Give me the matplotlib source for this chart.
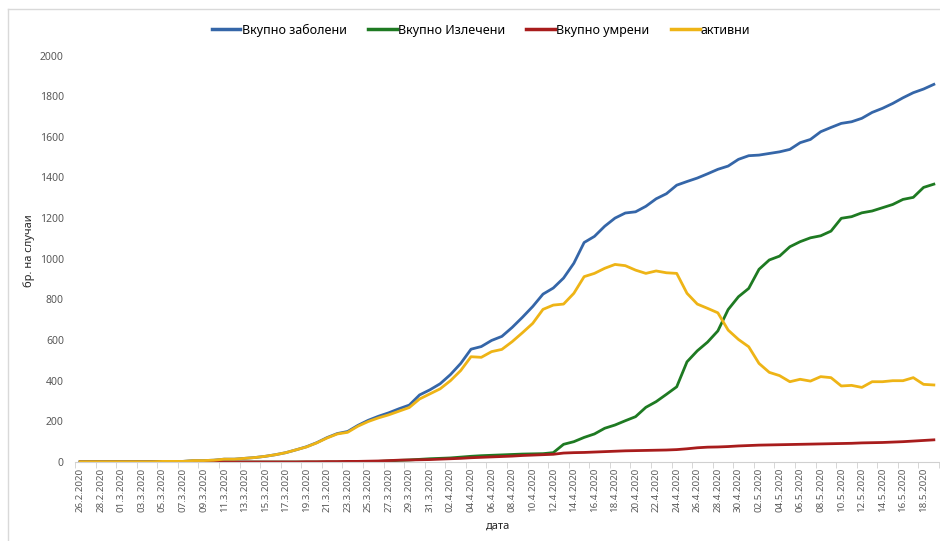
import matplotlib
matplotlib.use('Agg')
import matplotlib.pyplot as plt
from matplotlib.lines import Line2D

plt.rcParams['font.family'] = ['Noto Sans', 'DejaVu Sans']

# daily values from 26.2.2020 to 19.5.2020
total = [1, 1, 1, 1, 1, 1, 1, 1, 3, 3,
         3, 7, 7, 9, 14, 14, 18, 22, 28, 36,
         46, 60, 75, 95, 120, 140, 150, 180, 205, 225,
         242, 262, 280, 330, 355, 385, 430, 485, 555, 568,
         598, 618, 662, 712, 765, 826, 856, 905, 978, 1080,
         1110, 1160, 1200, 1225, 1231, 1258, 1295, 1320, 1362, 1380,
         1397, 1418, 1440, 1456, 1489, 1507, 1510, 1518, 1526, 1538,
         1571, 1587, 1625, 1646, 1666, 1674, 1691, 1720, 1740, 1764,
         1792, 1817, 1835, 1858]
recovered = [0, 0, 0, 0, 0, 0, 0, 0, 0, 0,
             0, 0, 0, 0, 0, 0, 0, 0, 0, 0,
             0, 0, 0, 0, 0, 0, 1, 1, 2, 3,
             5, 8, 10, 13, 16, 18, 20, 24, 28, 31,
             33, 35, 37, 39, 40, 41, 46, 87, 100, 121,
             138, 166, 182, 203, 223, 269, 297, 333, 370, 493,
             547, 590, 645, 750, 813, 854, 948, 994, 1013, 1059,
             1084, 1103, 1113, 1136, 1199, 1207, 1226, 1235, 1251, 1267,
             1292, 1302, 1351, 1367]
deaths = [0, 0, 0, 0, 0, 0, 0, 0, 0, 0,
          0, 0, 0, 0, 0, 0, 0, 0, 0, 0,
          0, 0, 1, 1, 2, 2, 3, 3, 4, 5,
          7, 9, 10, 11, 12, 14, 16, 18, 21, 23,
          25, 27, 29, 32, 34, 36, 38, 44, 46, 47,
          49, 51, 53, 55, 56, 57, 58, 59, 61, 65,
          70, 73, 74, 76, 79, 81, 83, 84, 85, 86,
          87, 88, 89, 90, 91, 92, 94, 95, 96, 98,
          100, 103, 106, 109]
active = [1, 1, 1, 1, 1, 1, 1, 1, 3, 3,
          3, 7, 7, 9, 14, 14, 18, 22, 28, 36,
          46, 60, 74, 94, 118, 138, 146, 176, 199, 217,
          232, 250, 268, 310, 335, 360, 400, 450, 518, 515,
          543, 554, 592, 636, 682, 751, 772, 777, 830, 912,
          928, 953, 972, 966, 944, 928, 940, 931, 928, 830,
          777, 756, 734, 649, 603, 567, 485, 441, 425, 395,
          407, 398, 420, 415, 374, 377, 367, 395, 395, 400,
          400, 415, 382, 379]

date_labels = ['26.2.2020', '28.2.2020', '01.3.2020', '03.3.2020', '05.3.2020',
               '07.3.2020', '09.3.2020', '11.3.2020', '13.3.2020', '15.3.2020',
               '17.3.2020', '19.3.2020', '21.3.2020', '23.3.2020', '25.3.2020',
               '27.3.2020', '29.3.2020', '31.3.2020', '02.4.2020', '04.4.2020',
               '06.4.2020', '08.4.2020', '10.4.2020', '12.4.2020', '14.4.2020',
               '16.4.2020', '18.4.2020', '20.4.2020', '22.4.2020', '24.4.2020',
               '26.4.2020', '28.4.2020', '30.4.2020', '02.5.2020', '04.5.2020',
               '06.5.2020', '08.5.2020', '10.5.2020', '12.5.2020', '14.5.2020',
               '16.5.2020', '18.5.2020']

names = ['Вкупно заболени', 'Вкупно Излечени', 'Вкупно умрени', 'активни']
colors = ['#3566a8', '#1e7a22', '#a81c1c', '#eeb416']

fig = plt.figure(figsize=(9.4, 5.41), dpi=100)
ax = fig.add_axes([75 / 940, 79 / 541, 864 / 940, 406.5 / 541])

days = list(range(len(total)))
for series, name, c in zip([total, recovered, deaths, active], names, colors):
    ax.plot(days, series, color=c, lw=2.0, label=name, solid_joinstyle='round')

ax.set_xlim(-0.5, len(total) - 0.5)
ax.set_ylim(0, 2000)
ax.set_yticks(range(0, 2001, 200))
ax.set_xticks(range(0, len(total), 2))
ax.set_xticklabels(date_labels, rotation=90)
ax.set_xticks([i - 0.5 for i in range(0, len(total) + 1, 2)], minor=True)
ax.tick_params(axis='x', which='major', length=0, pad=4, labelsize=7, colors='#595959')
ax.tick_params(axis='x', which='minor', length=4, color='#d0d0d0')
ax.tick_params(axis='y', length=0, pad=8, labelsize=7.5, colors='#595959')

for s in ['top', 'right', 'left']:
    ax.spines[s].set_visible(False)
ax.spines['bottom'].set_color('#d0d0d0')

ax.set_ylabel('бр. на случаи', fontsize=8, color='#262626')
ax.yaxis.set_label_coords(-0.046, 0.52)
ax.set_xlabel('дата', fontsize=8, color='#262626')
ax.xaxis.set_label_coords(0.49, -0.145)

handles = [Line2D([], [], color=c, lw=2.5) for c in colors]
fig.legend(handles, names, loc='center', bbox_to_anchor=(481 / 940, 1 - 30 / 541),
           ncol=4, frameon=False, fontsize=9.0, handlelength=2.3, handletextpad=0.1,
           columnspacing=1.7)

# chart area border (left and top edges visible)
fig.add_artist(Line2D([8 / 940, 8 / 940], [0, 1 - 9 / 541], color='#d9d9d9', lw=1))
fig.add_artist(Line2D([8 / 940, 1], [1 - 9 / 541, 1 - 9 / 541], color='#d9d9d9', lw=1))

fig.savefig('out.png', dpi=100)
